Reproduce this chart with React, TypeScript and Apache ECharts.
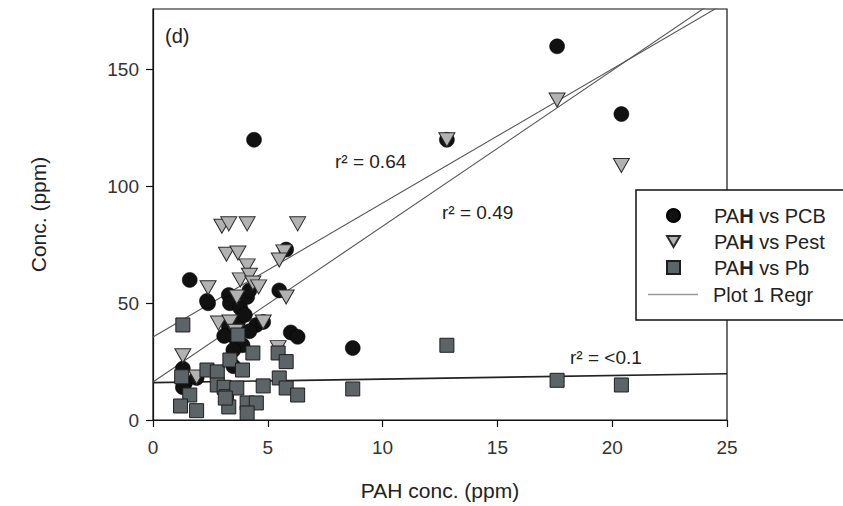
import React, { useEffect, useRef } from "react";
import * as echarts from "echarts";

const FONT = "'Liberation Sans', Arial, Helvetica, sans-serif";

const xTicks = [0, 5, 10, 15, 20, 25];
const yTicks = [0, 50, 100, 150];

const pcbPoints: number[][] = [
  [1.6, 60], [2.4, 50], [2.35, 51], [3.3, 53.5], [3.35, 50], [3.8, 48], [4.1, 52.7], [4.2, 55.5],
  [5.5, 55.5], [5.8, 73], [4.5, 40.7], [6.0, 37.5], [6.3, 35.6], [3.3, 40], [3.6, 35],
  [3.9, 32], [4.2, 38], [3.5, 30], [3.7, 42], [4.0, 45], [3.1, 36], [4.8, 42],
  [1.3, 22], [1.4, 16], [1.9, 18], [1.3, 14], [3.5, 23],
  [4.4, 120], [8.7, 30.8], [12.8, 120], [17.6, 160], [20.4, 131],
];

const pestPoints: number[][] = [
  [3.0, 83], [3.3, 84], [4.1, 84], [6.3, 84], [3.2, 71], [3.7, 71.5], [4.1, 66],
  [5.7, 72], [5.5, 68.5], [3.8, 60], [4.2, 62], [4.35, 58.7], [4.6, 57], [2.4, 56.6],
  [3.65, 52.7], [5.8, 52.7], [2.85, 41.5], [3.35, 42], [3.6, 38], [4.8, 42],
  [1.3, 27.5], [1.9, 18.4], [5.45, 31],
  [12.8, 120], [17.6, 137], [20.4, 109],
];

const pbPoints: number[][] = [
  [1.3, 40.7], [1.25, 18.5], [1.6, 10.7], [1.2, 6], [1.9, 4], [2.35, 21.4], [2.8, 20.6],
  [2.8, 15], [3.1, 14], [3.2, 10], [3.3, 5.6], [3.35, 25.7], [3.7, 36.4], [4.35, 28.7],
  [3.9, 21.4], [3.65, 13.7], [3.15, 9.4], [4.1, 7.3], [4.5, 7.3], [4.1, 3], [4.8, 14.6],
  [5.45, 28.7], [5.8, 25], [5.5, 18], [5.8, 13.7], [6.3, 10.7],
  [8.7, 13.3], [12.8, 32], [17.6, 17], [20.4, 15],
];

const regrPcb: number[][] = [[0, 35.5], [25, 179]];
const regrPest: number[][] = [[0, 16.3], [25, 183]];
const regrPb: number[][] = [[0, 16], [25, 19.8]];

const seriesNames = ["PAH vs PCB", "PAH vs Pest", "PAH vs Pb", "Plot 1 Regr"];
const r2Labels = ["r² = 0.64", "r² = 0.49", "r² = <0.1"];

export default function App() {
  const ref = useRef<HTMLDivElement>(null);

  useEffect(() => {
    if (!ref.current) return;
    const chart = echarts.init(ref.current, null, { renderer: "svg" });

    const legendFormatter = (name: string) =>
      name.startsWith("PAH") ? `{a|PA}{b|H}{c|${name.slice(3)}}` : `{d|${name}}`;
    const rich = {
      a: { fontSize: 20, fontFamily: FONT, color: "#222", padding: [0, 0, 0, 29] },
      b: { fontSize: 20, fontFamily: FONT, color: "#222", fontWeight: "bold" },
      c: { fontSize: 20, fontFamily: FONT, color: "#222" },
      d: { fontSize: 20, fontFamily: FONT, color: "#222", padding: [0, 0, 0, 10] },
    };

    const option: any = {
      animation: false,
      backgroundColor: "#ffffff",
      textStyle: { fontFamily: FONT },
      grid: {
        left: 153,
        right: 116,
        top: 9,
        bottom: 86,
        show: true,
        borderColor: "#111",
        borderWidth: 1.2,
      },
      xAxis: {
        type: "value",
        min: 0,
        max: 25,
        interval: 5,
        name: "PAH conc. (ppm)",
        nameLocation: "middle",
        nameGap: 60,
        nameTextStyle: { fontSize: 21, color: "#222", fontFamily: FONT },
        axisLine: { show: true, onZero: false, lineStyle: { color: "#111", width: 1.2 } },
        axisTick: { show: true, length: 7, lineStyle: { color: "#111", width: 1.2 } },
        axisLabel: {
          fontSize: 19,
          color: "#333",
          margin: 18,
          fontFamily: FONT,
          formatter: (v: number) => (xTicks.includes(v) ? String(v) : ""),
        },
        splitLine: { show: false },
      },
      yAxis: {
        type: "value",
        min: 0,
        max: 176,
        interval: 50,
        name: "Conc. (ppm)",
        nameLocation: "middle",
        nameGap: 104,
        nameTextStyle: { fontSize: 21, color: "#222", fontFamily: FONT },
        axisLine: { show: true, onZero: false, lineStyle: { color: "#111", width: 1.2 } },
        axisTick: { show: true, length: 7, lineStyle: { color: "#111", width: 1.2 } },
        axisLabel: {
          fontSize: 19,
          color: "#333",
          margin: 14,
          fontFamily: FONT,
          showMaxLabel: false,
          formatter: (v: number) => (yTicks.includes(v) ? String(v) : ""),
        },
        splitLine: { show: false },
      },
      legend: [
        {
          data: [
            { name: seriesNames[0], icon: "circle" },
            { name: seriesNames[1], icon: "path://M0,0 L10,0 L5,8.5 Z" },
            { name: seriesNames[2], icon: "rect" },
          ],
          orient: "vertical",
          left: 666,
          top: 205,
          padding: 0,
          itemWidth: 13,
          itemHeight: 13,
          itemGap: 5,
          selectedMode: false,
          formatter: legendFormatter,
          textStyle: { rich, lineHeight: 21 },
          z: 6,
        },
        {
          data: [{ name: seriesNames[3], icon: "rect" }],
          orient: "vertical",
          left: 648,
          top: 284,
          padding: 0,
          itemWidth: 50,
          itemHeight: 1.5,
          selectedMode: false,
          formatter: legendFormatter,
          textStyle: { rich, lineHeight: 21 },
          itemStyle: { color: "#9a9a9a", borderWidth: 0 },
          z: 6,
        },
      ],
      series: [
        {
          name: seriesNames[3],
          type: "line",
          data: regrPcb,
          symbol: "none",
          itemStyle: { color: "#9a9a9a" },
          lineStyle: { color: "#555", width: 1.1 },
          z: 1,
        },
        {
          name: seriesNames[3],
          type: "line",
          data: regrPest,
          symbol: "none",
          itemStyle: { color: "#9a9a9a" },
          lineStyle: { color: "#555", width: 1.1 },
          z: 1,
        },
        {
          name: seriesNames[3],
          type: "line",
          data: regrPb,
          symbol: "none",
          itemStyle: { color: "#9a9a9a" },
          lineStyle: { color: "#222", width: 1.6 },
          z: 1,
        },
        {
          name: seriesNames[0],
          type: "scatter",
          data: pcbPoints,
          symbol: "circle",
          symbolSize: 15,
          itemStyle: { color: "#111", borderColor: "#000", borderWidth: 0.5, opacity: 1 },
          z: 2,
        },
        {
          name: seriesNames[1],
          type: "scatter",
          data: pestPoints,
          symbol: "triangle",
          symbolRotate: 180,
          symbolSize: [16, 14],
          itemStyle: { color: "#b2b2b2", borderColor: "#2a2a2a", borderWidth: 1, opacity: 1 },
          z: 2,
        },
        {
          name: seriesNames[2],
          type: "scatter",
          data: pbPoints,
          symbol: "rect",
          symbolSize: 14,
          itemStyle: { color: "#5c6468", borderColor: "#1e1e1e", borderWidth: 1, opacity: 1 },
          z: 2,
        },
      ],
      graphic: [
        {
          type: "rect",
          z: 5,
          shape: { x: 636, y: 190, width: 230, height: 130 },
          style: { fill: "#ffffff", stroke: "#111", lineWidth: 1.5 },
        },
        {
          type: "text",
          z: 5,
          x: 165,
          y: 36,
          style: { text: "(d)", fontSize: 20, fontFamily: FONT, fill: "#222", verticalAlign: "middle" },
        },
        {
          type: "text",
          z: 5,
          x: 335,
          y: 161,
          style: { text: r2Labels[0], fontSize: 19, fontFamily: FONT, fill: "#222", verticalAlign: "middle" },
        },
        {
          type: "text",
          z: 5,
          x: 442,
          y: 212,
          style: { text: r2Labels[1], fontSize: 19, fontFamily: FONT, fill: "#222", verticalAlign: "middle" },
        },
        {
          type: "text",
          z: 5,
          x: 570,
          y: 357,
          style: { text: r2Labels[2], fontSize: 19, fontFamily: FONT, fill: "#222", verticalAlign: "middle" },
        },
      ],
    };

    chart.setOption(option);
    return () => chart.dispose();
  }, []);

  return (
    <div
      ref={ref}
      style={{ position: "fixed", left: 0, top: 0, width: 843, height: 506, background: "#fff" }}
    />
  );
}
